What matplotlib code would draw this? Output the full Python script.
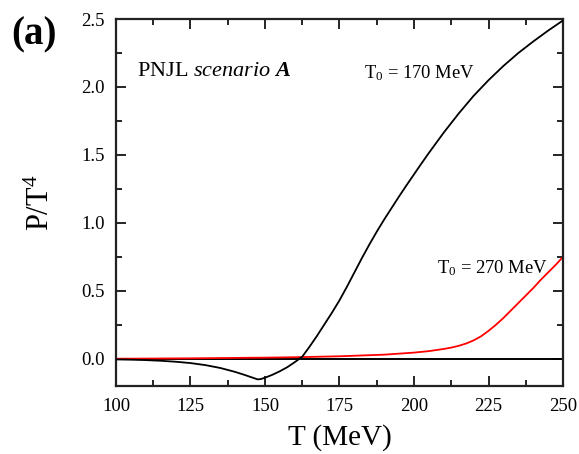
import matplotlib
matplotlib.use("Agg")
import matplotlib.pyplot as plt
from matplotlib.ticker import MultipleLocator, FormatStrFormatter

# Temperature grid (MeV) and P/T^4 for T0 = 170 MeV
T_170 = [100, 105, 110, 115, 120, 125, 130, 135, 140, 143, 145, 147, 147.5,
         148.5, 150, 152.5, 155, 157.5, 160, 162.5, 165, 167.5, 170, 172.5,
         175, 177.5, 180, 182.5, 185, 187.5, 190, 192.5, 195, 197.5, 200,
         202.5, 205, 210, 215, 220, 225, 230, 235, 240, 245, 250]
P_170 = [-0.005, -0.007, -0.010, -0.015, -0.022, -0.032, -0.047, -0.068,
         -0.097, -0.118, -0.133, -0.148, -0.152, -0.150, -0.140, -0.118,
         -0.092, -0.062, -0.025, 0.015, 0.09, 0.17, 0.255, 0.34, 0.43,
         0.53, 0.635, 0.74, 0.84, 0.935, 1.025, 1.11, 1.195, 1.277, 1.357,
         1.437, 1.515, 1.665, 1.805, 1.935, 2.05, 2.155, 2.25, 2.335, 2.415,
         2.49]

# Temperature grid (MeV) and P/T^4 for T0 = 270 MeV
T_270 = [100, 125, 150, 160, 175, 190, 200, 205, 210, 212.5, 215, 217.5,
         220, 222.5, 225, 227.5, 230, 232.5, 235, 237.5, 240, 242.5, 245,
         247.5, 250]
P_270 = [0.0, 0.003, 0.008, 0.011, 0.018, 0.03, 0.045, 0.056, 0.072, 0.082,
         0.095, 0.112, 0.135, 0.165, 0.205, 0.25, 0.30, 0.355, 0.41, 0.465,
         0.52, 0.58, 0.635, 0.69, 0.75]

plt.rcParams["font.family"] = ["Liberation Serif", "DejaVu Serif"]
plt.rcParams["mathtext.fontset"] = "custom"
plt.rcParams["mathtext.rm"] = "Liberation Serif"
plt.rcParams["mathtext.it"] = "Liberation Serif:italic"
plt.rcParams["mathtext.bf"] = "Liberation Serif:bold:italic"

fig = plt.figure(figsize=(5.79, 4.54), dpi=100)
ax = fig.add_axes([0.2003, 0.150, 0.7721, 0.808])

ax.axhline(0.0, color="black", lw=1.4, zorder=1)
ax.plot(T_170, P_170, color="black", lw=1.3, zorder=3)
ax.plot(T_270, P_270, color="red", lw=1.3, zorder=2)

ax.set_xlim(100, 250)
ax.set_ylim(-0.2, 2.5)
ax.xaxis.set_major_locator(MultipleLocator(25))
ax.xaxis.set_minor_locator(MultipleLocator(12.5))
ax.yaxis.set_major_locator(MultipleLocator(0.5))
ax.yaxis.set_minor_locator(MultipleLocator(0.25))
ax.yaxis.set_major_formatter(FormatStrFormatter("%.1f"))

ax.tick_params(which="both", direction="in", top=True, right=True,
               width=1.2, labelsize=13.5)
ax.tick_params(axis="x", which="both", pad=9)
ax.tick_params(axis="y", which="both", pad=8)
ax.tick_params(which="major", length=7)
ax.tick_params(which="minor", length=4)
for s in ax.spines.values():
    s.set_linewidth(1.6)
    s.set_color("#222222")

ax.set_xlabel("T (MeV)", fontsize=21, labelpad=6)
ax.set_ylabel(r"P/T$^4$", fontsize=22, labelpad=18)

fig.text(0.059, 0.922, "(a)", fontsize=28, fontweight="bold",
         ha="center", va="center")
ax.text(0.048, 0.856, r"PNJL $\mathit{scenario}$ $\mathbf{A}$",
        transform=ax.transAxes, fontsize=16, va="center", ha="left")
ax.text(0.555, 0.852, r"T$_0$ = 170 MeV", transform=ax.transAxes,
        fontsize=13.4, va="center", ha="left")
ax.text(0.718, 0.322, r"T$_0$ = 270 MeV", transform=ax.transAxes,
        fontsize=13.4, va="center", ha="left")

fig.savefig("out.png", dpi=100)
